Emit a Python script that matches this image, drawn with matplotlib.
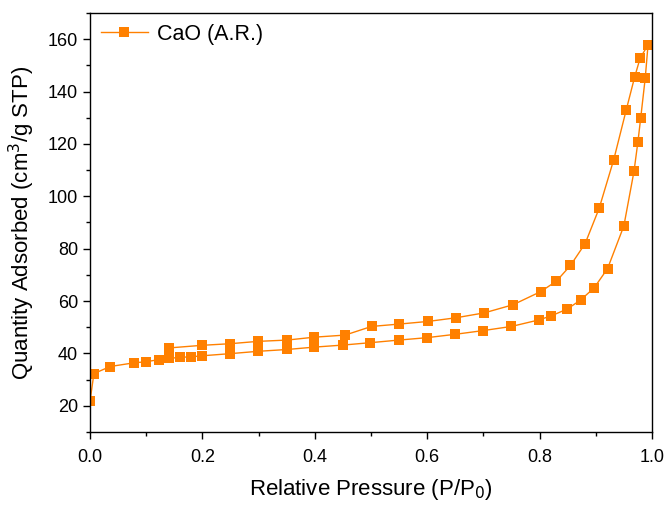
import matplotlib.pyplot as plt
from matplotlib.ticker import MultipleLocator

# adsorption branch (P/P0, quantity adsorbed)
ads_x = [0.000, 0.007, 0.036, 0.078, 0.099, 0.122, 0.141, 0.160, 0.180, 0.200,
         0.249, 0.299, 0.351, 0.399, 0.451, 0.499, 0.550, 0.599, 0.650, 0.699,
         0.750, 0.799, 0.820, 0.849, 0.873, 0.897, 0.921, 0.950, 0.968, 0.975,
         0.980, 0.988, 0.993]
ads_y = [21.7, 32.3, 35.0, 36.4, 36.8, 37.6, 38.1, 38.5, 38.7, 39.1,
         39.9, 40.8, 41.5, 42.4, 43.2, 44.1, 45.1, 46.0, 47.3, 48.7,
         50.3, 52.8, 54.3, 56.9, 60.4, 65.0, 72.4, 88.7, 109.5, 120.8,
         130.0, 145.1, 157.8]

# desorption branch
des_x = [0.979, 0.969, 0.954, 0.932, 0.906, 0.881, 0.855, 0.830, 0.802, 0.753,
         0.702, 0.651, 0.601, 0.550, 0.501, 0.454, 0.399, 0.351, 0.299, 0.249,
         0.200, 0.141]
des_y = [152.8, 145.4, 132.8, 114.0, 95.4, 81.9, 73.6, 67.6, 63.6, 58.6,
         55.5, 53.6, 52.2, 51.2, 50.3, 47.0, 46.2, 45.1, 44.6, 43.7,
         43.1, 42.1]

plt.rcParams['font.family'] = ['Liberation Sans', 'DejaVu Sans']

fig = plt.figure(figsize=(6.68, 5.05), dpi=100)
ax = fig.add_axes([0.1347, 0.1446, 0.8413, 0.8297])

orange = "#ff8000"
ax.plot(ads_x + des_x, ads_y + des_y, color=orange, lw=1.0, marker="s",
        markersize=6.5, markeredgewidth=0, label="CaO (A.R.)")

ax.set_xlim(0, 1.0)
ax.set_ylim(10, 170)
ax.xaxis.set_major_locator(MultipleLocator(0.2))
ax.xaxis.set_minor_locator(MultipleLocator(0.1))
ax.yaxis.set_major_locator(MultipleLocator(20))
ax.yaxis.set_minor_locator(MultipleLocator(10))
ax.set_yticks(range(20, 161, 20))
ax.tick_params(which="major", direction="out", length=5, width=1, labelsize=13)
ax.tick_params(axis="x", which="major", pad=7)
ax.tick_params(which="minor", direction="out", length=3, width=1)
for s in ax.spines.values():
    s.set_linewidth(1.0)

ax.set_xlabel("Relative Pressure (P/P$_0$)", fontsize=16, labelpad=8)
ax.set_ylabel("Quantity Adsorbed (cm$^3$/g STP)", fontsize=16, labelpad=8)
ax.legend(loc="upper left", frameon=False, fontsize=15.5, handlelength=2.2,
          borderaxespad=0.2, borderpad=0.3, handletextpad=0.4)

fig.savefig("out.png", dpi=100)
